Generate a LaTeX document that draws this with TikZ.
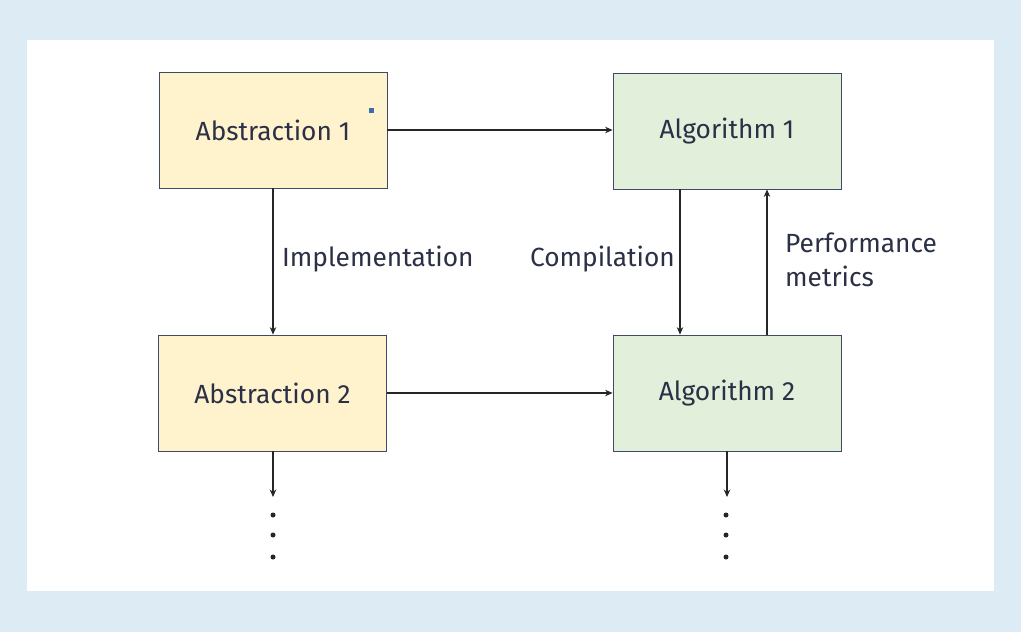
\documentclass[tikz,border=0pt]{standalone}
\usepackage{fontspec}
\setmainfont{Fira Sans}
\usetikzlibrary{arrows.meta}
\definecolor{bgblue}{HTML}{DDEBF4}
\definecolor{boxline}{HTML}{3E4A68}
\definecolor{yel}{HTML}{FFF3CD}
\definecolor{grn}{HTML}{E2EFDA}
\definecolor{txt}{HTML}{2B3046}
\definecolor{markblue}{HTML}{3A6CB0}
\tikzset{
  box/.style={draw=boxline, line width=0.8pt, minimum width=228pt, minimum height=116pt, inner sep=0pt, text=txt, font=\fontsize{26.3}{30}\selectfont},
  absbox/.style={box, fill=yel},
  algbox/.style={box, fill=grn},
  conn/.style={draw=black!85, line width=1.1pt, -{Stealth[length=7.5pt,width=6.5pt]}},
  lbl/.style={text=txt, font=\fontsize{26.3}{34}\selectfont, inner sep=0pt},
  dotnode/.style={circle, fill=black!85, inner sep=0pt, minimum size=5pt}
}
\begin{document}
\begin{tikzpicture}[x=1pt,y=-1pt]
\fill[bgblue] (0,0) rectangle (1021,632);
\fill[white] (27,40) rectangle (994,591);
\useasboundingbox (0,0) rectangle (1021,632);
\node[absbox] (abs1) at (273,130) {Abstraction 1};
\node[algbox] (alg1) at (727,131) {Algorithm 1};
\node[absbox] (abs2) at (272.5,393) {Abstraction 2};
\node[algbox] (alg2) at (727,393) {Algorithm 2};
\fill[markblue] (369,108) rectangle (374,113);
\coordinate (e1) at (273,497);
\coordinate (e2) at (727,497);
\draw[conn] (abs1.east |- 0,130) -- (alg1.west |- 0,130);
\draw[conn] (abs2.east) -- (alg2.west);
\draw[conn] (abs1.south) -- (abs2.north -| abs1.south);
\draw[conn] (alg1.south -| 680,0) -- (alg2.north -| 680,0);
\draw[conn] (alg2.north -| 767,0) -- (alg1.south -| 767,0);
\draw[conn] (abs2.south -| e1) -- (e1);
\draw[conn] (alg2.south) -- (e2);
\node[lbl, anchor=west] (impl) at (282,259) {Implementation};
\node[lbl, anchor=east] (comp) at (675,259) {Compilation};
\node[lbl, anchor=west, align=left] (perf) at (785,260) {Performance\\metrics};
\foreach \y [count=\i] in {515,535,557}{
  \node[dotnode] (da\i) at (273,\y) {};
  \node[dotnode] (db\i) at (726,\y) {};
}
\end{tikzpicture}
\end{document}
